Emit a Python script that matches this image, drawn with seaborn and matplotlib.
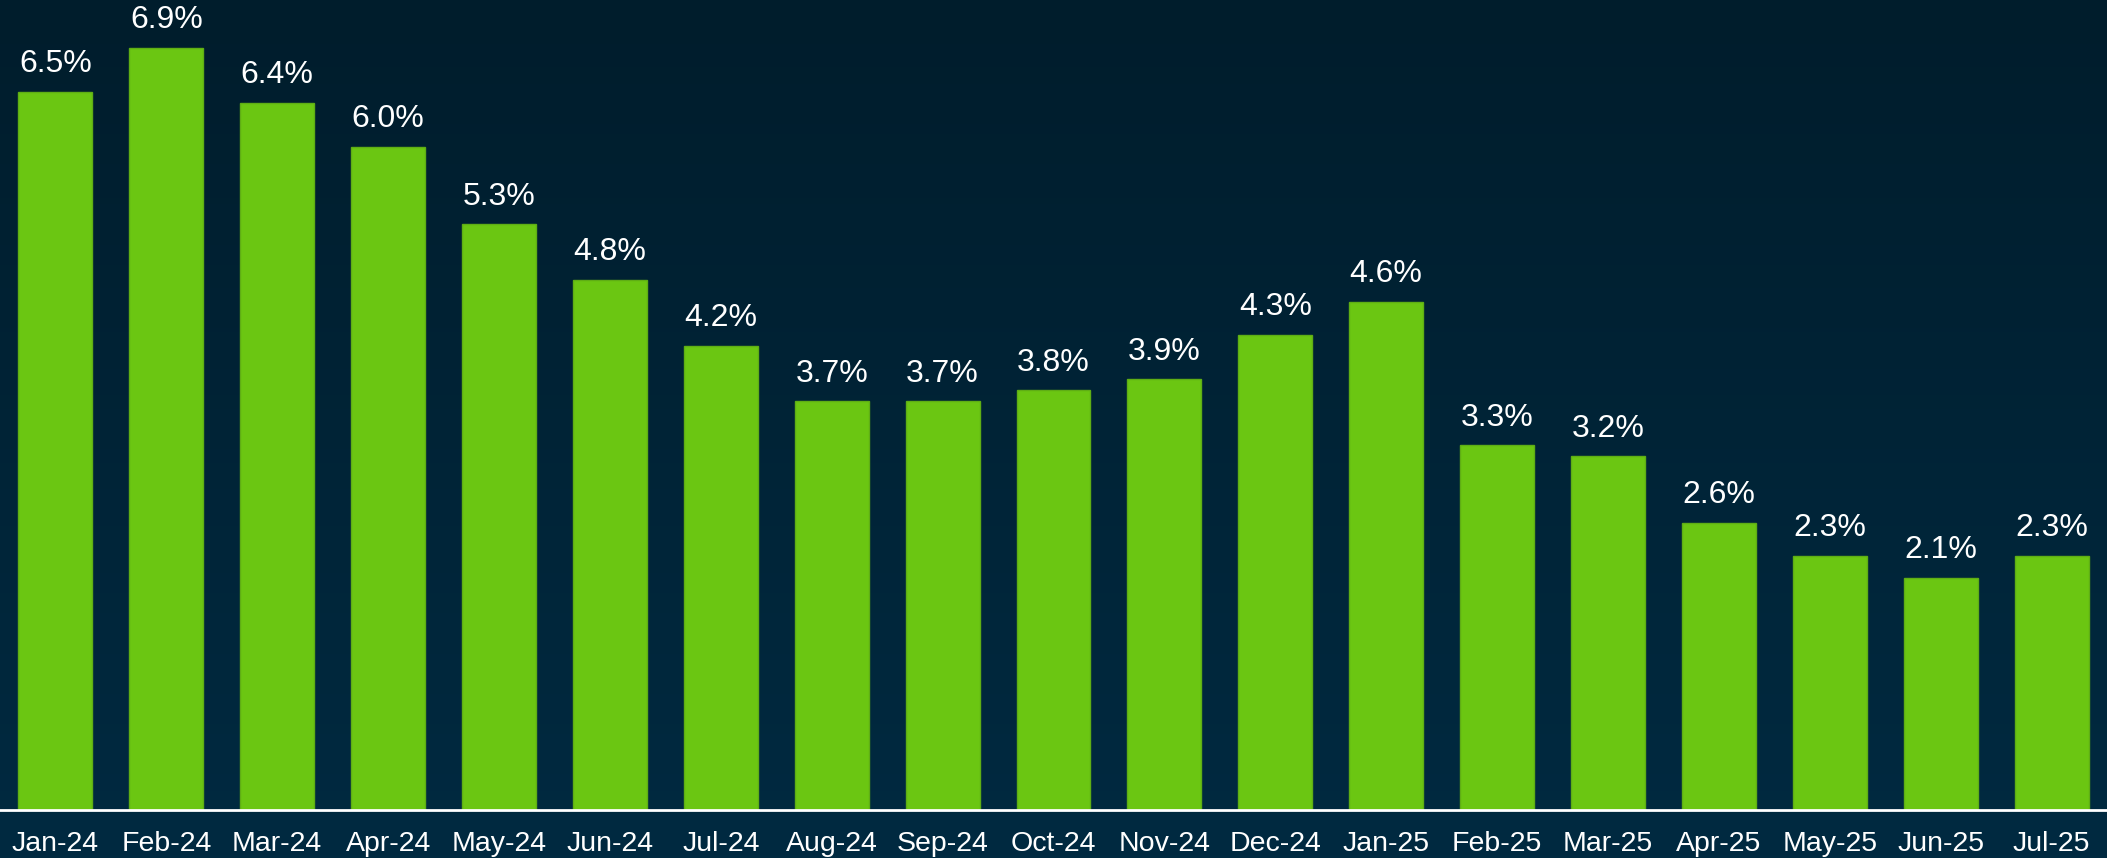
import numpy as np
import pandas as pd
import matplotlib
matplotlib.use("Agg")
import matplotlib.pyplot as plt
import seaborn as sns
from matplotlib.colors import LinearSegmentedColormap

months = ["Jan-24", "Feb-24", "Mar-24", "Apr-24", "May-24", "Jun-24", "Jul-24",
          "Aug-24", "Sep-24", "Oct-24", "Nov-24", "Dec-24", "Jan-25", "Feb-25",
          "Mar-25", "Apr-25", "May-25", "Jun-25", "Jul-25"]
rates = [6.5, 6.9, 6.4, 6.0, 5.3, 4.8, 4.2, 3.7, 3.7, 3.8, 3.9, 4.3, 4.6, 3.3,
         3.2, 2.6, 2.3, 2.1, 2.3]

df = pd.DataFrame({"month": months, "rate": rates})

sns.set_theme(style="white")
plt.rcParams["font.family"] = ["Liberation Sans", "DejaVu Sans"]

fig = plt.figure(figsize=(21.07, 8.58), dpi=100)

# gradient background
bg = fig.add_axes([0, 0, 1, 1], zorder=0)
grad = np.linspace(0, 1, 256).reshape(-1, 1)
cmap = LinearSegmentedColormap.from_list("bg", ["#001d2c", "#002a41"])
bg.imshow(grad, aspect="auto", cmap=cmap, extent=[0, 1, 0, 1], origin="upper")
bg.set_axis_off()

ax = fig.add_axes([0, 48 / 858, 1, 810 / 858], zorder=1)
ax.patch.set_alpha(0)
sns.barplot(data=df, x="month", y="rate", color="#6bc612", width=0.667,
            edgecolor="#5fae14", linewidth=1, saturation=1, ax=ax)
ax.set_xlim(-0.5, 18.5)
ax.set_ylim(0, 7.33)
ax.bar_label(ax.containers[0], fmt="%.1f%%", padding=9, color="white",
             fontsize=23)
ax.set_xlabel("")
ax.set_ylabel("")
ax.set_yticks([])
for s in ["top", "right", "left"]:
    ax.spines[s].set_visible(False)
ax.spines["bottom"].set_color("white")
ax.spines["bottom"].set_linewidth(2)
ax.tick_params(axis="x", colors="white", labelsize=20.5, length=0, pad=15)

fig.savefig("out.png", dpi=100)
